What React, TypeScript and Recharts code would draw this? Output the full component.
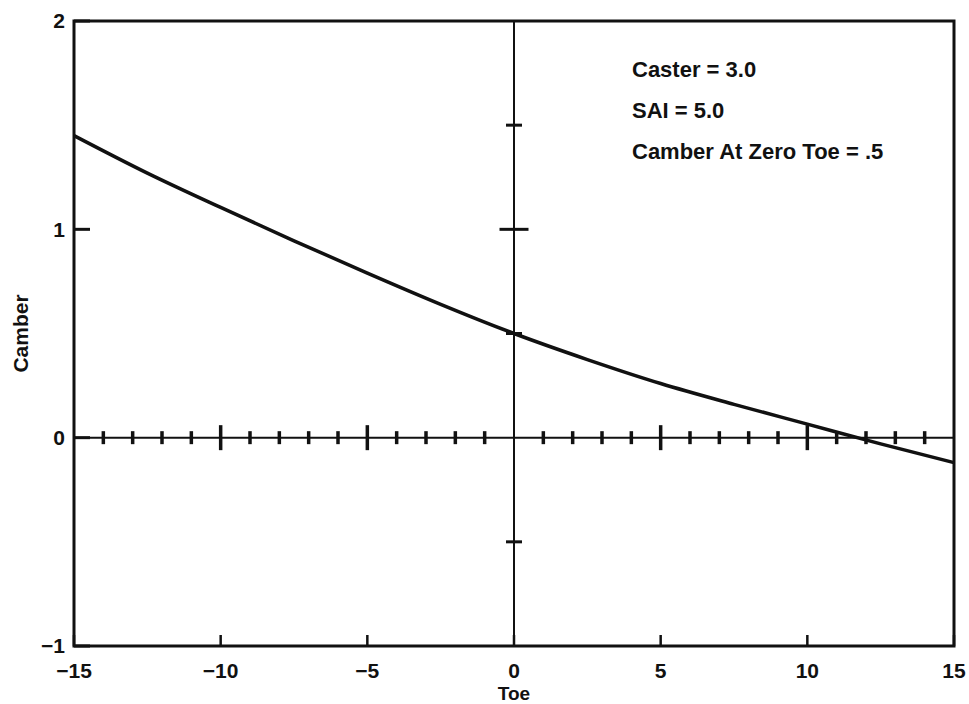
import * as React from "react";
import {
  ComposedChart,
  Line,
  Scatter,
  XAxis,
  YAxis,
  ReferenceLine,
  ReferenceArea,
} from "recharts";

// camber vs toe curve
const toe = [-15, -12.5, -10, -7.5, -5, -2.5, 0, 2.5, 5, 7.5, 10, 12.5, 15];
const camber = [1.45, 1.27, 1.105, 0.945, 0.79, 0.64, 0.5, 0.375, 0.26, 0.16, 0.065, -0.03, -0.12];

const toeTicks = [-15, -10, -5, 0, 5, 10, 15];
const camberTicks = [-1, 0, 1, 2];

// hatch marks drawn on the zero axes
const toeMarks = [-14, -13, -12, -11, -10, -9, -8, -7, -6, -5, -4, -3, -2, -1, 1, 2, 3, 4, 5, 6, 7, 8, 9, 10, 11, 12, 13, 14];
const toeMajor = [-10, -5, 5, 10];
const camberMarks = [1.5, 1, 0.5, -0.5];
const camberMajor = [1];

const notes = ["Caster = 3.0", "SAI = 5.0", "Camber At Zero Toe = .5"];

const curve = toe.map((x, i) => ({ x, y: camber[i] }));
const toeMarkData = toeMarks.map((x) => ({ x, y: 0, major: toeMajor.includes(x) }));
const camberMarkData = camberMarks.map((y) => ({ x: 0, y, major: camberMajor.includes(y) }));

const INK = "#111";
const FONT = "'Liberation Sans', Arial, Helvetica, sans-serif";
const fmt = (v: number) => String(v).replace("-", "\u2212");

function VTick(p: any) {
  const h = p.payload?.major ? 12.5 : 6.5;
  return <line x1={p.cx} x2={p.cx} y1={p.cy - h} y2={p.cy + h} stroke={INK} strokeWidth={3.5} />;
}

function HTick(p: any) {
  const w = p.payload?.major ? 14.5 : 8;
  return <line x1={p.cx - w} x2={p.cx + w} y1={p.cy} y2={p.cy} stroke={INK} strokeWidth={3} />;
}

export default function App() {
  return (
    <div style={{ position: "absolute", left: 0, top: 0, width: 969, height: 704, background: "#fff" }}>
      <ComposedChart
        width={969}
        height={704}
        data={curve}
        margin={{ top: 21, right: 15, bottom: 0, left: 0 }}
        style={{ fontFamily: FONT }}
      >
        <XAxis
          type="number"
          dataKey="x"
          domain={[-15, 15]}
          ticks={toeTicks}
          tickFormatter={fmt}
          height={58}
          axisLine={false}
          tickSize={-11}
          tickMargin={28}
          tickLine={{ stroke: INK, strokeWidth: 2.5 }}
          tick={{ fill: INK, fontSize: 21, fontWeight: 700 }}
          interval={0}
          label={{
            content: (props: any) => {
              const vb = props.viewBox;
              return (
                <text x={vb.x + vb.width / 2} y={700} textAnchor="middle" fill={INK} fontSize={19} fontWeight={700} fontFamily={FONT}>
                  Toe
                </text>
              );
            },
          }}
        />
        <YAxis
          type="number"
          dataKey="y"
          domain={[-1, 2]}
          ticks={camberTicks}
          tickFormatter={fmt}
          width={74}
          axisLine={false}
          tickSize={-16}
          tickMargin={25}
          tickLine={{ stroke: INK, strokeWidth: 3 }}
          tick={{ fill: INK, fontSize: 21, fontWeight: 700 }}
          interval={0}
          label={{
            content: (props: any) => {
              const vb = props.viewBox;
              const cy = vb.y + vb.height / 2;
              return (
                <text x={28} y={cy} transform={`rotate(-90, 28, ${cy})`} textAnchor="middle" fill={INK} fontSize={21} fontWeight={700} fontFamily={FONT}>
                  Camber
                </text>
              );
            },
          }}
        />
        <ReferenceArea x1={-15} x2={15} y1={-1} y2={2} fill="none" stroke={INK} strokeWidth={3} ifOverflow="visible" />
        <ReferenceLine y={0} stroke={INK} strokeWidth={2} />
        <ReferenceLine x={0} stroke={INK} strokeWidth={2} />
        <Scatter data={toeMarkData} dataKey="y" shape={VTick} isAnimationActive={false} />
        <Scatter data={camberMarkData} dataKey="y" shape={HTick} isAnimationActive={false} />
        <Line type="monotone" dataKey="y" stroke={INK} strokeWidth={3.5} dot={false} activeDot={false} isAnimationActive={false} />
      </ComposedChart>
      <svg width={969} height={704} style={{ position: "absolute", left: 0, top: 0, pointerEvents: "none" }}>
        {notes.map((n, i) => (
          <text key={n} x={632} y={77 + i * 41} fill={INK} fontSize={22} fontWeight={700} fontFamily={FONT}>
            {n}
          </text>
        ))}
      </svg>
    </div>
  );
}
